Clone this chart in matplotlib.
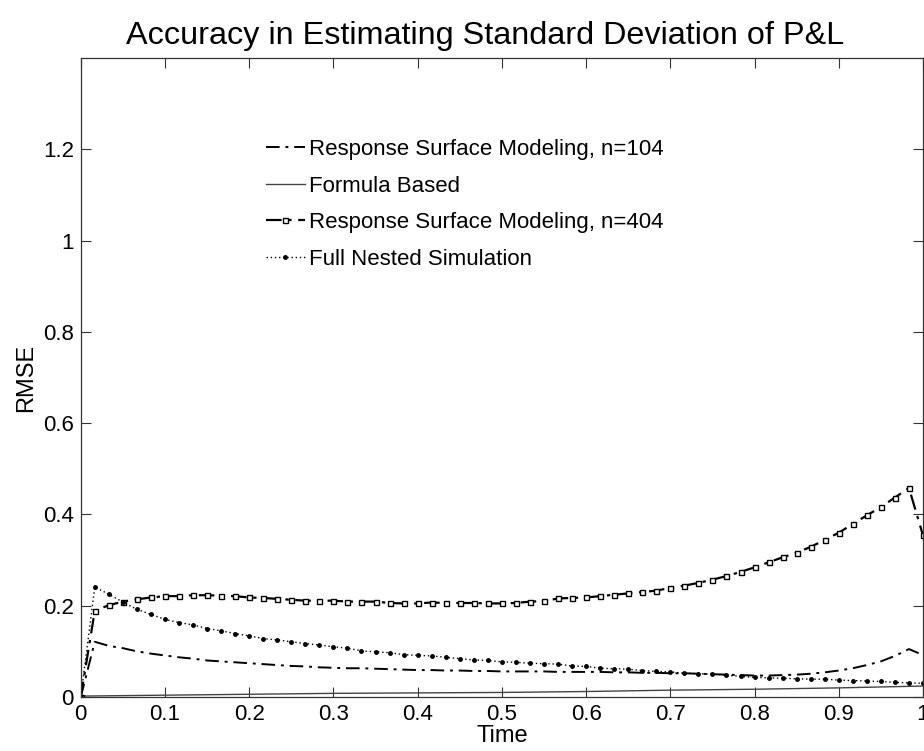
"""RMSE of the P&L standard deviation estimate over time, four methods."""
import matplotlib

matplotlib.use("Agg")
import matplotlib.pyplot as plt
import numpy as np

plt.rcParams["font.family"] = ["Liberation Sans", "DejaVu Sans"]

# time grid used by the simulation (61 steps from 0 to 1)
TIME = np.linspace(0, 1, 61)

RSM_104 = [0.0, 0.121, 0.112, 0.107, 0.100, 0.095, 0.091, 0.087, 0.084, 0.080,
           0.078, 0.076, 0.074, 0.072, 0.070, 0.068, 0.067, 0.065, 0.064, 0.063,
           0.063, 0.062, 0.061, 0.060, 0.059, 0.059, 0.058, 0.058, 0.057, 0.057,
           0.056, 0.056, 0.056, 0.056, 0.055, 0.055, 0.055, 0.055, 0.054, 0.054,
           0.053, 0.053, 0.052, 0.052, 0.051, 0.050, 0.049, 0.048, 0.047, 0.047,
           0.048, 0.049, 0.051, 0.054, 0.058, 0.063, 0.070, 0.078, 0.090, 0.105,
           0.092]

RSM_404 = [0.0, 0.189, 0.201, 0.209, 0.214, 0.218, 0.221, 0.221, 0.223, 0.223,
           0.222, 0.221, 0.218, 0.217, 0.215, 0.213, 0.211, 0.211, 0.211, 0.209,
           0.209, 0.209, 0.206, 0.205, 0.205, 0.207, 0.206, 0.206, 0.206, 0.205,
           0.205, 0.206, 0.209, 0.210, 0.216, 0.217, 0.218, 0.221, 0.224, 0.227,
           0.230, 0.233, 0.239, 0.244, 0.250, 0.257, 0.265, 0.274, 0.284, 0.295,
           0.306, 0.316, 0.329, 0.344, 0.360, 0.379, 0.398, 0.416, 0.437, 0.458,
           0.354]

FULL_NESTED = [0.0, 0.241, 0.225, 0.208, 0.192, 0.181, 0.170, 0.163, 0.158, 0.150,
               0.145, 0.139, 0.134, 0.128, 0.125, 0.121, 0.117, 0.114, 0.110, 0.107,
               0.101, 0.099, 0.097, 0.093, 0.091, 0.090, 0.087, 0.084, 0.081, 0.080,
               0.077, 0.076, 0.074, 0.073, 0.072, 0.068, 0.067, 0.063, 0.062, 0.061,
               0.058, 0.056, 0.055, 0.052, 0.051, 0.050, 0.048, 0.045, 0.043, 0.042,
               0.041, 0.040, 0.039, 0.039, 0.037, 0.036, 0.035, 0.034, 0.032, 0.031,
               0.030]

FORMULA_T = [0.0, 0.1, 0.2, 0.3, 0.4, 0.5, 0.6, 0.7, 0.8, 0.9, 1.0]
FORMULA = [0.002, 0.004, 0.006, 0.008, 0.009, 0.010, 0.012, 0.015, 0.017, 0.020, 0.024]

LABELS = ["Response Surface Modeling, n=104", "Formula Based",
          "Response Surface Modeling, n=404", "Full Nested Simulation"]
XTICKS = [0, 0.1, 0.2, 0.3, 0.4, 0.5, 0.6, 0.7, 0.8, 0.9, 1.0]
XTICKLABELS = ["0", "0.1", "0.2", "0.3", "0.4", "0.5", "0.6", "0.7", "0.8", "0.9", "1"]
YTICKS = [0, 0.2, 0.4, 0.6, 0.8, 1.0, 1.2]
YTICKLABELS = ["0", "0.2", "0.4", "0.6", "0.8", "1", "1.2"]

INK = "#000000"
AXC = "#333333"
FS = 16

fig = plt.figure(figsize=(9.24, 7.51), dpi=100)
ax = fig.add_axes([0.0874, 0.0719, 0.9115, 0.8509])

ax.plot(TIME, RSM_104, color=INK, lw=1.4, dashes=(7, 3, 1.5, 3), label=LABELS[0])
ax.plot(FORMULA_T, FORMULA, color="#444444", lw=1.0, label=LABELS[1])
ax.plot(TIME, RSM_404, color=INK, lw=1.6, dashes=(7, 3, 1.5, 3), marker="s",
        markersize=3.6, mfc="white", mec=INK, mew=1.0, label=LABELS[2])
ax.plot(TIME, FULL_NESTED, color=INK, lw=1.0, ls=(0, (1, 2)), marker=".",
        markersize=5, label=LABELS[3])

ax.set_xlim(0, 1)
ax.set_ylim(0, 1.4)
ax.set_xticks(XTICKS, XTICKLABELS)
ax.set_yticks(YTICKS, YTICKLABELS)
ax.tick_params(direction="in", length=7, width=0.8, color=AXC, labelsize=FS,
               top=True, right=True, pad=5)
for s in ax.spines.values():
    s.set_color(AXC)
    s.set_linewidth(0.9)

ax.set_xlabel("Time", fontsize=FS + 1, labelpad=0)
ax.set_ylabel("RMSE", fontsize=FS + 1, labelpad=4)
ax.set_title("Accuracy in Estimating Standard Deviation of P&L", fontsize=23.3,
             pad=10, x=0.48)

leg = ax.legend(loc="upper left", bbox_to_anchor=(0.209, 0.887), frameon=False,
                fontsize=FS, handlelength=1.75, handletextpad=0.18, labelspacing=0.7,
                borderaxespad=0)

fig.savefig("out.png", dpi=100)
